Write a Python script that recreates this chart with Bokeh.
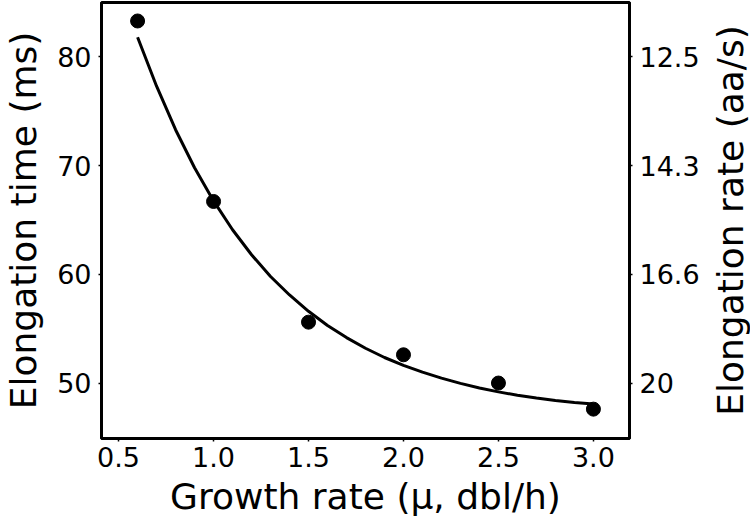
from bokeh.plotting import figure
from bokeh.layouts import row
from bokeh.models import Range1d, LinearAxis, FixedTicker
from bokeh.embed import file_html
from bokeh.resources import INLINE

# Measured data: growth rate vs elongation time
growth_rate = [0.6, 1.0, 1.5, 2.0, 2.5, 3.0]
elong_time = [83.3, 66.7, 55.6, 52.6, 50.0, 47.6]

# Fitted curve
fit_x = [0.6, 0.7, 0.8, 0.9, 1.0, 1.1, 1.2, 1.3, 1.4, 1.5, 1.6, 1.7, 1.8,
         1.9, 2.0, 2.1, 2.2, 2.3, 2.4, 2.5, 2.6, 2.7, 2.8, 2.9, 3.0]
fit_y = [81.8, 77.3, 73.3, 69.8, 66.75, 64.1, 61.8, 59.8, 58.1, 56.6, 55.3,
         54.18, 53.2, 52.35, 51.63, 51.0, 50.45, 49.97, 49.55, 49.19, 48.88,
         48.62, 48.4, 48.22, 48.08]

x_ticks = [0.5, 1.0, 1.5, 2.0, 2.5, 3.0]
x_tick_labels = ["0.5", "1.0", "1.5", "2.0", "2.5", "3.0"]
left_ticks = [50, 60, 70, 80]
right_tick_positions = [80, 70, 60, 50]
right_tick_labels = ["12.5", "14.3", "16.6", "20"]

X_MIN, X_MAX = 0.41, 3.19
Y_MIN, Y_MAX = 44.9, 85.0

FONT = "DejaVu Sans"
TICK_FS = "27px"
LABEL_FS = "36px"
FRAME_H = 436

p = figure(frame_width=528, frame_height=FRAME_H, output_backend="svg",
           toolbar_location=None,
           x_range=Range1d(X_MIN, X_MAX), y_range=Range1d(Y_MIN, Y_MAX),
           min_border_top=2, min_border_left=0, min_border_right=77,
           min_border_bottom=0)
p.background_fill_color = "white"
p.border_fill_color = "white"
p.outline_line_color = "black"
p.outline_line_width = 3
p.xgrid.visible = False
p.ygrid.visible = False

p.line(fit_x, fit_y, line_color="black", line_width=3, line_join="round")
p.scatter(growth_rate, elong_time, size=14, fill_color="black",
          line_color="black")


def style(ax, label, standoff_tick, standoff_label):
    ax.axis_label = label
    ax.axis_label_text_font = FONT
    ax.axis_label_text_font_size = LABEL_FS
    ax.axis_label_text_font_style = "normal"
    ax.axis_label_text_color = "black"
    ax.axis_label_standoff = standoff_label
    ax.major_label_text_font = FONT
    ax.major_label_text_font_size = TICK_FS
    ax.major_label_text_color = "black"
    ax.major_label_standoff = standoff_tick
    ax.axis_line_width = 3
    ax.axis_line_color = "black"
    ax.major_tick_in = 0
    ax.major_tick_out = 3
    ax.major_tick_line_width = 1.5
    ax.major_tick_line_color = "black"
    ax.minor_tick_line_color = None


xa = p.xaxis[0]
xa.ticker = FixedTicker(ticks=x_ticks)
xa.major_label_overrides = {t: s for t, s in zip(x_ticks, x_tick_labels)}
style(xa, "Growth rate (μ, dbl/h)", 5, 6)

ya = p.yaxis[0]
ya.ticker = FixedTicker(ticks=left_ticks)
style(ya, "Elongation time (ms)", 7, 10)

ra = LinearAxis()
ra.ticker = FixedTicker(ticks=right_tick_positions)
ra.major_label_overrides = {t: s for t, s in zip(right_tick_positions, right_tick_labels)}
style(ra, None, 7, 0)
p.add_layout(ra, "right")

# Narrow companion figure that carries the right-hand axis title so that it
# reads bottom-to-top, centred on the same frame height.
p2 = figure(frame_width=1, frame_height=FRAME_H, output_backend="svg",
            toolbar_location=None,
            x_range=Range1d(0, 1), y_range=Range1d(Y_MIN, Y_MAX),
            min_border_top=2, min_border_left=0, min_border_right=0,
            min_border_bottom=80)
p2.outline_line_color = None
p2.background_fill_color = "white"
p2.border_fill_color = "white"
p2.xgrid.visible = False
p2.ygrid.visible = False
p2.xaxis.visible = False
ta = p2.yaxis[0]
ta.ticker = FixedTicker(ticks=[])
style(ta, "Elongation rate (aa/s)", 0, 0)
ta.axis_line_color = None
ta.major_tick_out = 0
ta.major_tick_line_color = None
ta.major_label_text_font_size = "0px"

layout = row(p, p2)
open("out.html", "w").write(file_html(layout, INLINE))
